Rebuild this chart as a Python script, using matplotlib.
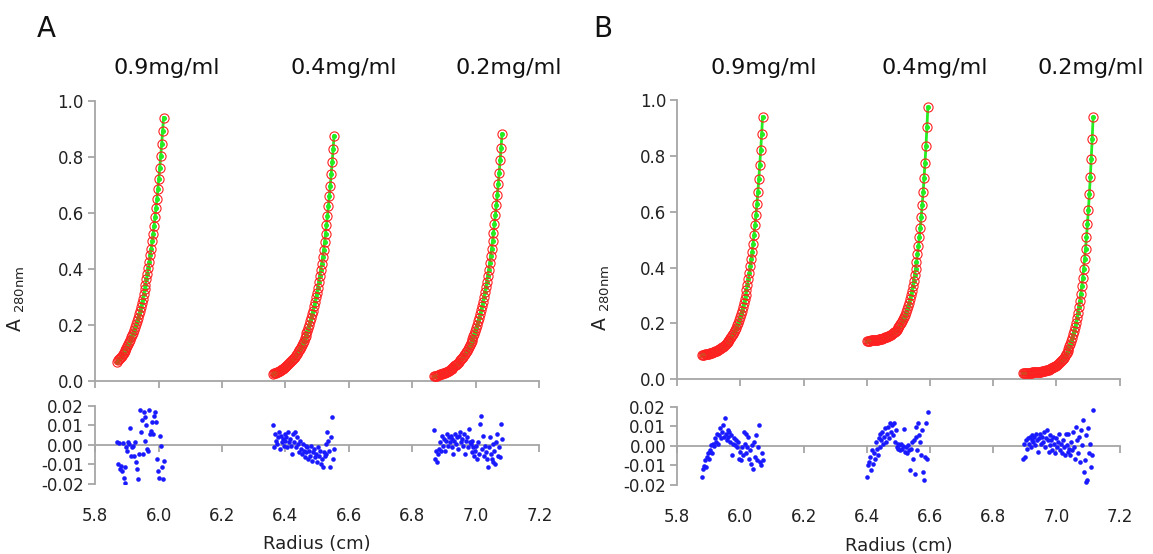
import matplotlib
matplotlib.use('Agg')
import matplotlib.pyplot as plt

plt.rcParams['font.family'] = ['DejaVu Sans']
plt.rcParams['mathtext.fontset'] = 'dejavusans'

# ---------------- data ----------------
conc_labels = ['0.9mg/ml', '0.4mg/ml', '0.2mg/ml']
x_ticks = [5.8, 6.0, 6.2, 6.4, 6.6, 6.8, 7.0, 7.2]
x_ticklabels = ['5.8', '6.0', '6.2', '6.4', '6.6', '6.8', '7.0', '7.2']
y_ticks = [0.0, 0.2, 0.4, 0.6, 0.8, 1.0]
y_ticklabels = ['0.0', '0.2', '0.4', '0.6', '0.8', '1.0']
r_ticks = [-0.02, -0.01, 0.0, 0.01, 0.02]
r_ticklabels = ['-0.02', '-0.01', '0.00', '0.01', '0.02']

# Panel A, 0.9 mg/ml
xA1 = [5.869, 5.872, 5.875, 5.878, 5.881, 5.884, 5.887, 5.890, 5.893, 5.896,
       5.899, 5.902, 5.905, 5.908, 5.911, 5.914, 5.917, 5.920, 5.923, 5.926,
       5.929, 5.932, 5.935, 5.938, 5.941, 5.944, 5.947, 5.950, 5.953, 5.956,
       5.959, 5.962, 5.965, 5.968, 5.971, 5.974, 5.977, 5.980, 5.983, 5.986,
       5.989, 5.992, 5.995, 5.998, 6.001, 6.004, 6.007, 6.010, 6.013, 6.016]
yA1 = [0.071, 0.075, 0.079, 0.083, 0.088, 0.092, 0.097, 0.103, 0.108, 0.114,
       0.120, 0.127, 0.134, 0.141, 0.149, 0.157, 0.165, 0.174, 0.183, 0.193,
       0.204, 0.215, 0.227, 0.239, 0.252, 0.265, 0.280, 0.295, 0.311, 0.328,
       0.345, 0.364, 0.384, 0.405, 0.427, 0.450, 0.474, 0.500, 0.527, 0.555,
       0.585, 0.617, 0.650, 0.686, 0.723, 0.762, 0.803, 0.847, 0.893, 0.941]
rA1 = [0.0014, -0.0098, 0.0009, -0.0124, -0.0107, -0.0132, 0.0009, -0.0167, -0.0195, -0.0115,
       -0.0012, -0.0029, 0.0014, 0.0005, 0.0088, -0.0055, -0.0012, -0.0003, -0.0055, 0.0014,
       -0.0089, -0.0124, -0.0175, -0.0046, 0.0177, 0.0065, 0.0126, -0.0046, 0.0169, 0.0022,
       0.0143, 0.0100, -0.0021, -0.0029, 0.0177, 0.0057, 0.0074, 0.0117, 0.0057, 0.0151,
       0.0169, 0.0117, -0.0072, -0.0132, -0.0167, 0.0048, -0.0003, -0.0115, -0.0175, -0.0081]

# Panel A, 0.4 mg/ml
xA2 = [6.361, 6.364, 6.367, 6.370, 6.373, 6.376, 6.379, 6.382, 6.385, 6.388,
       6.391, 6.394, 6.397, 6.400, 6.403, 6.406, 6.409, 6.412, 6.415, 6.418,
       6.421, 6.424, 6.427, 6.430, 6.433, 6.436, 6.439, 6.442, 6.445, 6.448,
       6.451, 6.454, 6.457, 6.460, 6.463, 6.466, 6.469, 6.472, 6.475, 6.478,
       6.481, 6.484, 6.487, 6.490, 6.493, 6.496, 6.499, 6.502, 6.505, 6.508,
       6.511, 6.514, 6.517, 6.520, 6.523, 6.526, 6.529, 6.532, 6.535, 6.538,
       6.541, 6.544, 6.547, 6.550, 6.553]
yA2 = [0.027, 0.029, 0.030, 0.032, 0.033, 0.035, 0.037, 0.039, 0.041, 0.043,
       0.045, 0.047, 0.050, 0.052, 0.055, 0.058, 0.061, 0.065, 0.068, 0.072,
       0.076, 0.080, 0.084, 0.089, 0.094, 0.099, 0.105, 0.111, 0.117, 0.123,
       0.130, 0.138, 0.145, 0.154, 0.162, 0.172, 0.181, 0.192, 0.203, 0.214,
       0.227, 0.240, 0.253, 0.268, 0.283, 0.300, 0.317, 0.335, 0.355, 0.375,
       0.397, 0.420, 0.444, 0.470, 0.497, 0.526, 0.557, 0.589, 0.624, 0.660,
       0.698, 0.739, 0.782, 0.828, 0.876]
rA2 = [0.0100, -0.0012, 0.0057, 0.0022, 0.0005, 0.0040, 0.0065, -0.0021, 0.0048, 0.0014,
       0.0031, -0.0003, 0.0057, 0.0022, 0.0040, -0.0012, 0.0065, 0.0014, 0.0031, -0.0003,
       -0.0046, 0.0057, 0.0014, 0.0065, -0.0012, 0.0040, 0.0005, -0.0038, 0.0022, -0.0021,
       -0.0046, 0.0005, -0.0029, -0.0064, -0.0003, -0.0038, -0.0012, -0.0072, -0.0029, -0.0055,
       -0.0003, -0.0081, -0.0038, -0.0021, -0.0064, -0.0046, -0.0089, -0.0012, -0.0055, -0.0029,
       -0.0098, -0.0072, -0.0112, -0.0038, -0.0055, 0.0005, -0.0046, 0.0065, 0.0022, -0.0029,
       -0.0112, 0.0040, 0.0146, -0.0072, -0.0021]

# Panel A, 0.2 mg/ml
xA3 = [6.869, 6.872, 6.875, 6.878, 6.881, 6.884, 6.887, 6.890, 6.893, 6.896,
       6.899, 6.902, 6.905, 6.908, 6.911, 6.914, 6.917, 6.920, 6.923, 6.926,
       6.929, 6.932, 6.935, 6.938, 6.941, 6.944, 6.947, 6.950, 6.953, 6.956,
       6.959, 6.962, 6.965, 6.968, 6.971, 6.974, 6.977, 6.980, 6.983, 6.986,
       6.989, 6.992, 6.995, 6.998, 7.001, 7.004, 7.007, 7.010, 7.013, 7.016,
       7.019, 7.022, 7.025, 7.028, 7.031, 7.034, 7.037, 7.040, 7.043, 7.046,
       7.049, 7.052, 7.055, 7.058, 7.061, 7.064, 7.067, 7.070, 7.073, 7.076,
       7.079, 7.082]
yA3 = [0.018, 0.019, 0.020, 0.021, 0.022, 0.023, 0.025, 0.026, 0.027, 0.029,
       0.030, 0.032, 0.033, 0.035, 0.037, 0.039, 0.041, 0.043, 0.046, 0.048,
       0.051, 0.054, 0.057, 0.060, 0.063, 0.067, 0.071, 0.075, 0.079, 0.083,
       0.088, 0.093, 0.098, 0.104, 0.110, 0.116, 0.123, 0.130, 0.137, 0.145,
       0.153, 0.162, 0.171, 0.181, 0.192, 0.203, 0.215, 0.227, 0.240, 0.254,
       0.269, 0.284, 0.301, 0.318, 0.337, 0.356, 0.377, 0.399, 0.422, 0.447,
       0.473, 0.501, 0.530, 0.561, 0.593, 0.628, 0.665, 0.704, 0.745, 0.788,
       0.834, 0.883]
rA3 = [0.0077, -0.0072, -0.0029, -0.0089, -0.0046, -0.0021, 0.0014, -0.0029, 0.0048, -0.0003,
       0.0031, -0.0029, 0.0022, 0.0057, -0.0003, 0.0040, 0.0014, 0.0048, -0.0012, 0.0031,
       -0.0046, 0.0022, 0.0057, 0.0005, 0.0040, -0.0021, 0.0048, 0.0065, 0.0014, 0.0031,
       -0.0003, 0.0057, -0.0046, 0.0022, 0.0040, -0.0012, 0.0083, 0.0014, 0.0005, -0.0038,
       0.0022, -0.0012, -0.0055, -0.0029, -0.0003, -0.0072, 0.0014, -0.0046, 0.0108, 0.0151,
       -0.0021, 0.0048, -0.0055, -0.0003, -0.0038, -0.0072, -0.0115, -0.0012, 0.0040, -0.0046,
       -0.0072, 0.0005, -0.0089, -0.0029, -0.0098, 0.0014, 0.0057, -0.0055, -0.0012, -0.0064,
       0.0105, 0.0031]

# Panel B, 0.9 mg/ml
xB1 = [5.878, 5.881, 5.884, 5.887, 5.890, 5.893, 5.896, 5.899, 5.902, 5.905,
       5.908, 5.911, 5.914, 5.917, 5.920, 5.923, 5.926, 5.929, 5.932, 5.935,
       5.938, 5.941, 5.944, 5.947, 5.950, 5.953, 5.956, 5.959, 5.962, 5.965,
       5.968, 5.971, 5.974, 5.977, 5.980, 5.983, 5.986, 5.989, 5.992, 5.995,
       5.998, 6.001, 6.004, 6.007, 6.010, 6.013, 6.016, 6.019, 6.022, 6.025,
       6.028, 6.031, 6.034, 6.037, 6.040, 6.043, 6.046, 6.049, 6.052, 6.055,
       6.058, 6.061, 6.064, 6.067, 6.070]
yB1 = [0.087, 0.087, 0.088, 0.089, 0.089, 0.090, 0.091, 0.092, 0.093, 0.094,
       0.095, 0.096, 0.097, 0.099, 0.100, 0.102, 0.103, 0.105, 0.107, 0.109,
       0.112, 0.114, 0.117, 0.120, 0.123, 0.126, 0.130, 0.134, 0.138, 0.142,
       0.147, 0.152, 0.158, 0.164, 0.171, 0.178, 0.185, 0.193, 0.202, 0.212,
       0.222, 0.233, 0.245, 0.258, 0.272, 0.287, 0.303, 0.320, 0.339, 0.359,
       0.381, 0.404, 0.430, 0.457, 0.486, 0.518, 0.552, 0.589, 0.628, 0.671,
       0.717, 0.767, 0.820, 0.878, 0.940]
rB1 = [-0.0159, -0.0116, -0.0104, -0.0074, -0.0108, -0.0056, -0.0039, -0.0065, -0.0022, -0.0031,
       0.0003, -0.0039, 0.0012, -0.0002, 0.0038, 0.0021, 0.0063, 0.0012, 0.0055, 0.0089,
       0.0038, 0.0072, 0.0106, 0.0046, 0.0140, 0.0063, 0.0029, 0.0080, 0.0046, 0.0072,
       0.0021, 0.0055, -0.0048, 0.0012, 0.0038, 0.0003, 0.0029, -0.0005, 0.0021, -0.0065,
       -0.0031, -0.0074, -0.0005, -0.0048, 0.0072, 0.0012, 0.0063, -0.0039, -0.0005, 0.0046,
       -0.0065, -0.0022, -0.0091, 0.0003, -0.0116, 0.0021, -0.0056, 0.0055, -0.0074, -0.0005,
       0.0106, -0.0082, -0.0099, -0.0039, -0.0074]

# Panel B, 0.4 mg/ml
xB2 = [6.401, 6.404, 6.407, 6.410, 6.413, 6.416, 6.419, 6.422, 6.425, 6.428,
       6.431, 6.434, 6.437, 6.440, 6.443, 6.446, 6.449, 6.452, 6.455, 6.458,
       6.461, 6.464, 6.467, 6.470, 6.473, 6.476, 6.479, 6.482, 6.485, 6.488,
       6.491, 6.494, 6.497, 6.500, 6.503, 6.506, 6.509, 6.512, 6.515, 6.518,
       6.521, 6.524, 6.527, 6.530, 6.533, 6.536, 6.539, 6.542, 6.545, 6.548,
       6.551, 6.554, 6.557, 6.560, 6.563, 6.566, 6.569, 6.572, 6.575, 6.578,
       6.581, 6.584, 6.587, 6.590, 6.593]
yB2 = [0.137, 0.138, 0.138, 0.138, 0.139, 0.139, 0.139, 0.140, 0.140, 0.141,
       0.141, 0.142, 0.143, 0.143, 0.144, 0.145, 0.146, 0.147, 0.148, 0.150,
       0.151, 0.152, 0.154, 0.156, 0.158, 0.160, 0.162, 0.165, 0.168, 0.171,
       0.174, 0.178, 0.182, 0.186, 0.191, 0.197, 0.202, 0.209, 0.216, 0.223,
       0.231, 0.241, 0.251, 0.262, 0.274, 0.287, 0.301, 0.316, 0.334, 0.352,
       0.373, 0.395, 0.420, 0.447, 0.476, 0.508, 0.543, 0.582, 0.624, 0.670,
       0.721, 0.776, 0.836, 0.903, 0.975]
rB2 = [-0.0159, -0.0099, -0.0082, -0.0056, -0.0125, -0.0022, -0.0091, -0.0039, -0.0065, 0.0021,
       -0.0014, -0.0048, 0.0038, -0.0005, 0.0063, 0.0029, 0.0072, 0.0012, 0.0046, 0.0089,
       0.0021, 0.0063, 0.0097, 0.0038, 0.0115, 0.0072, 0.0106, 0.0055, 0.0115, 0.0021,
       0.0080, -0.0005, 0.0012, -0.0014, 0.0003, -0.0022, 0.0012, -0.0014, -0.0002, 0.0084,
       -0.0031, -0.0005, -0.0039, 0.0003, -0.0022, -0.0125, -0.0014, 0.0021, -0.0065, 0.0029,
       -0.0142, 0.0046, 0.0097, -0.0022, 0.0115, 0.0055, 0.0021, -0.0048, 0.0080, -0.0133,
       -0.0176, -0.0056, 0.0115, -0.0065, 0.0174]

# Panel B, 0.2 mg/ml
xB3 = [6.894, 6.897, 6.900, 6.903, 6.906, 6.909, 6.912, 6.915, 6.918, 6.921,
       6.924, 6.927, 6.930, 6.933, 6.936, 6.939, 6.942, 6.945, 6.948, 6.951,
       6.954, 6.957, 6.960, 6.963, 6.966, 6.969, 6.972, 6.975, 6.978, 6.981,
       6.984, 6.987, 6.990, 6.993, 6.996, 6.999, 7.002, 7.005, 7.008, 7.011,
       7.014, 7.017, 7.020, 7.023, 7.026, 7.029, 7.032, 7.035, 7.038, 7.041,
       7.044, 7.047, 7.050, 7.053, 7.056, 7.059, 7.062, 7.065, 7.068, 7.071,
       7.074, 7.077, 7.080, 7.083, 7.086, 7.089, 7.092, 7.095, 7.098, 7.101,
       7.104, 7.107, 7.110, 7.113, 7.116]
yB3 = [0.023, 0.023, 0.023, 0.023, 0.023, 0.024, 0.024, 0.024, 0.024, 0.024,
       0.025, 0.025, 0.025, 0.026, 0.026, 0.026, 0.027, 0.027, 0.028, 0.028,
       0.029, 0.030, 0.030, 0.031, 0.032, 0.033, 0.034, 0.035, 0.036, 0.038,
       0.039, 0.041, 0.043, 0.045, 0.047, 0.049, 0.052, 0.055, 0.058, 0.061,
       0.065, 0.069, 0.073, 0.078, 0.084, 0.089, 0.096, 0.103, 0.110, 0.118,
       0.128, 0.138, 0.149, 0.161, 0.174, 0.188, 0.203, 0.220, 0.239, 0.260,
       0.282, 0.307, 0.333, 0.363, 0.395, 0.430, 0.468, 0.511, 0.557, 0.607,
       0.662, 0.723, 0.789, 0.861, 0.940]
rB3 = [-0.0065, 0.0012, -0.0056, 0.0029, -0.0014, 0.0038, 0.0012, 0.0046, -0.0005, 0.0029,
       0.0055, 0.0021, 0.0046, 0.0003, 0.0063, 0.0029, -0.0031, 0.0038, 0.0063, 0.0012,
       0.0046, 0.0021, 0.0072, -0.0005, 0.0038, 0.0080, 0.0029, -0.0031, 0.0055, 0.0003,
       0.0029, -0.0022, 0.0046, 0.0012, -0.0039, 0.0038, -0.0005, 0.0021, 0.0063, -0.0022,
       0.0012, -0.0039, 0.0029, -0.0005, -0.0048, 0.0063, 0.0003, -0.0031, 0.0063, -0.0014,
       -0.0048, 0.0021, -0.0022, 0.0072, -0.0005, -0.0065, 0.0097, 0.0029, -0.0039, 0.0046,
       -0.0082, 0.0080, 0.0003, 0.0132, -0.0133, -0.0074, -0.0185, 0.0055, -0.0176, 0.0089,
       -0.0039, 0.0012, -0.0108, -0.0048, 0.0183]

# ---------------- figure ----------------
GRAY = '#a6a6a6'
TXT = '#222222'
RED = '#ff2020'
GREEN = '#22ee22'
BLUE = '#1a1aff'

fig = plt.figure(figsize=(11.53, 5.54), dpi=100)

panels = [
    dict(letter='A', letter_xy=(0.040, 0.948),
         main=[0.0824, 0.3114, 0.3855, 0.5063], resid=[0.0824, 0.1264, 0.3855, 0.1408],
         title_x=[0.1444, 0.298, 0.441], ylab_xy=(-0.153, 0.294),
         curves=[(xA1, yA1, rA1), (xA2, yA2, rA2), (xA3, yA3, rA3)]),
    dict(letter='B', letter_xy=(0.523, 0.948),
         main=[0.5874, 0.3153, 0.3837, 0.5042], resid=[0.5874, 0.1245, 0.3837, 0.1414],
         title_x=[0.662, 0.811, 0.946], ylab_xy=(-0.147, 0.29),
         curves=[(xB1, yB1, rB1), (xB2, yB2, rB2), (xB3, yB3, rB3)]),
]

for p in panels:
    ax = fig.add_axes(p['main'])
    axr = fig.add_axes(p['resid'])

    for (xs, ys, rs) in p['curves']:
        ax.plot(xs, ys, '-', color=GREEN, lw=2.0, marker='o', ms=2.6,
                mfc=GREEN, mec=GREEN, zorder=2)
        ax.plot(xs, ys, 'o', mfc='none', mec=RED, mew=0.8, ms=6.6, zorder=3)
        axr.plot(xs, rs, 'o', color=BLUE, ms=3.3, mew=0, zorder=3)

    # main axes
    ax.set_xlim(5.8, 7.2)
    ax.set_ylim(0.0, 1.0)
    for s in ['top', 'right']:
        ax.spines[s].set_visible(False)
    for s in ['left', 'bottom']:
        ax.spines[s].set_color(GRAY)
        ax.spines[s].set_linewidth(1.3)
    ax.set_xticks(x_ticks)
    ax.set_yticks(y_ticks)
    ax.set_yticklabels(y_ticklabels)
    ax.tick_params(axis='x', direction='out', length=5, width=1.3, color=GRAY,
                   labelbottom=False)
    ax.tick_params(axis='y', direction='out', length=5, width=1.3, color=GRAY,
                   labelsize=12, labelcolor=TXT, pad=3)
    ax.set_ylabel(r'$\mathrm{A}\ _{\mathrm{280nm}}$', fontsize=13.5, color=TXT)
    ax.yaxis.set_label_coords(*p['ylab_xy'])

    # residual axes
    axr.set_xlim(5.8, 7.2)
    axr.set_ylim(-0.02, 0.02)
    for s in ['top', 'right']:
        axr.spines[s].set_visible(False)
    axr.spines['left'].set_color(GRAY)
    axr.spines['left'].set_linewidth(1.3)
    axr.spines['bottom'].set_position(('data', 0.0))
    axr.spines['bottom'].set_color(GRAY)
    axr.spines['bottom'].set_linewidth(1.3)
    axr.set_xticks(x_ticks)
    axr.set_xticklabels(x_ticklabels)
    axr.set_yticks(r_ticks)
    axr.set_yticklabels(r_ticklabels)
    axr.tick_params(axis='x', direction='out', length=5, width=1.3, color=GRAY,
                    labelsize=12, labelcolor=TXT, pad=40)
    axr.tick_params(axis='y', direction='out', length=5, width=1.3, color=GRAY,
                    labelsize=12, labelcolor=TXT, pad=3)
    axr.set_xlabel('Radius (cm)', fontsize=13, color=TXT)
    axr.xaxis.set_label_coords(0.5, -0.66)

    # titles and panel letter
    for tx, lab in zip(p['title_x'], conc_labels):
        fig.text(tx, 0.877, lab, fontsize=16, ha='center', va='center', color='#111111')
    fig.text(p['letter_xy'][0], p['letter_xy'][1], p['letter'], fontsize=20,
             ha='center', va='center', color='#111111')

fig.savefig('out.png', dpi=100)
